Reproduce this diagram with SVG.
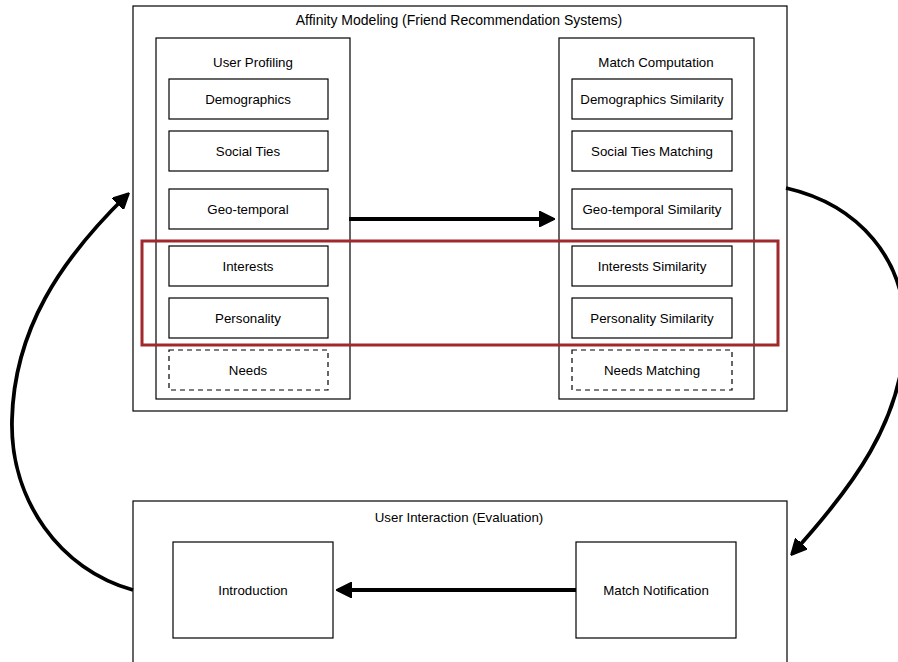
<svg xmlns="http://www.w3.org/2000/svg" width="898" height="662" viewBox="0 0 898 662">
<style>
.frame{fill:#fff;stroke:#000;stroke-width:1.2}
.box{fill:#fff;stroke:#000;stroke-width:1.2}
.dash{fill:#fff;stroke:#000;stroke-width:1.2;stroke-dasharray:5,4}
.t{font-family:"Liberation Sans",Arial,sans-serif;font-size:13.3px;fill:#000;text-anchor:middle;dominant-baseline:central}
.title{font-size:14px}
.conn{fill:none;stroke:#000;stroke-width:3.8}
</style>
<defs>
<marker id="ah" viewBox="0 0 10 10" refX="9" refY="5" markerWidth="4.2" markerHeight="4.2" orient="auto" markerUnits="strokeWidth">
<path d="M0,0 L10,5 L0,10 Z" fill="#000" stroke="#000" stroke-linejoin="round"/>
</marker>
</defs>
<rect width="898" height="662" fill="#fff"/>
<g id="affinity-modeling">
<rect class="frame" x="133" y="6" width="654" height="405"/>
<text class="t title" x="459" y="20">Affinity Modeling (Friend Recommendation Systems)</text>
</g>
<g id="user-profiling">
<rect class="frame" x="156" y="38" width="194" height="361"/>
<text class="t" x="253" y="62">User Profiling</text>
</g>
<g id="demographics"><rect class="box" x="169" y="79" width="159" height="40"/><text class="t" x="248" y="99">Demographics</text></g>
<g id="social-ties"><rect class="box" x="169" y="131" width="159" height="40"/><text class="t" x="248" y="151">Social Ties</text></g>
<g id="geo-temporal"><rect class="box" x="169" y="189" width="159" height="40"/><text class="t" x="248" y="209">Geo-temporal</text></g>
<g id="interests"><rect class="box" x="169" y="246" width="159" height="40"/><text class="t" x="248" y="266">Interests</text></g>
<g id="personality"><rect class="box" x="169" y="298" width="159" height="40"/><text class="t" x="248" y="318">Personality</text></g>
<g id="needs"><rect class="dash" x="169" y="350" width="159" height="40"/><text class="t" x="248" y="370">Needs</text></g>
<g id="match-computation">
<rect class="frame" x="559" y="38" width="195" height="361"/>
<text class="t" x="656" y="62">Match Computation</text>
</g>
<g id="demographics-similarity"><rect class="box" x="572" y="79" width="160" height="40"/><text class="t" x="652" y="99">Demographics Similarity</text></g>
<g id="social-ties-matching"><rect class="box" x="572" y="131" width="160" height="40"/><text class="t" x="652" y="151">Social Ties Matching</text></g>
<g id="geo-temporal-similarity"><rect class="box" x="572" y="189" width="160" height="40"/><text class="t" x="652" y="209">Geo-temporal Similarity</text></g>
<g id="interests-similarity"><rect class="box" x="572" y="246" width="160" height="40"/><text class="t" x="652" y="266">Interests Similarity</text></g>
<g id="personality-similarity"><rect class="box" x="572" y="298" width="160" height="40"/><text class="t" x="652" y="318">Personality Similarity</text></g>
<g id="needs-matching"><rect class="dash" x="572" y="350" width="160" height="40"/><text class="t" x="652" y="370">Needs Matching</text></g>
<g id="highlight">
<rect x="142" y="241" width="636" height="104" fill="none" stroke="#a0292c" stroke-width="3"/>
</g>
<g id="user-interaction">
<rect class="frame" x="133" y="501" width="654" height="175"/>
<text class="t" x="459" y="517">User Interaction (Evaluation)</text>
</g>
<g id="introduction"><rect class="box" x="173" y="542" width="160" height="96"/><text class="t" x="253" y="590">Introduction</text></g>
<g id="match-notification"><rect class="box" x="576" y="542" width="160" height="96"/><text class="t" x="656" y="590">Match Notification</text></g>
<g id="connectors">
<path class="conn" d="M349,219 L553,219" marker-end="url(#ah)"/>
<path class="conn" d="M576,590 L338,590" marker-end="url(#ah)"/>
<path class="conn" d="M786,188 C860,205 905,260 905,330 C905,420 850,490 792,554" marker-end="url(#ah)"/>
<path class="conn" d="M133,590 C60,570 10,500 12,420 C14,330 60,260 128,194" marker-end="url(#ah)"/>
</g>
</svg>
